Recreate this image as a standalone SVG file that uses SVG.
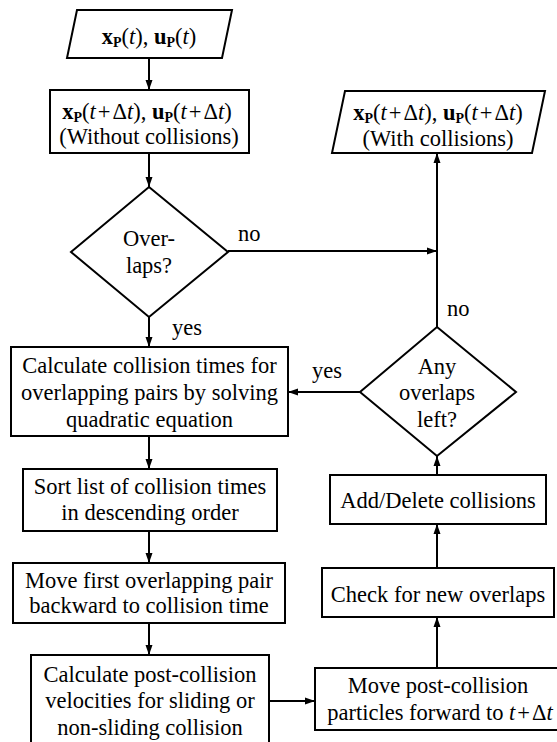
<svg xmlns="http://www.w3.org/2000/svg" width="557" height="742" viewBox="0 0 557 742">
<style>
.s{fill:#fff;stroke:#000;stroke-width:2}
text{font-family:'Liberation Serif','Times New Roman',Tinos,'DejaVu Serif',serif;font-size:22.5px;fill:#000}
.t{text-anchor:middle}
.c{fill:none;stroke:#000;stroke-width:2}
.b{font-weight:bold}
.sub{font-weight:bold;font-size:14px}
.i{font-style:italic}
</style>
<defs>
<marker id="ah" markerUnits="userSpaceOnUse" markerWidth="10" markerHeight="8" refX="10" refY="4" orient="auto">
<path d="M0,0.5 L10,4 L0,7.5 Z" fill="#000"/>
</marker>
</defs>
<rect width="557" height="742" fill="#fff"/>
<g id="connectors">
<line class="c" x1="149" y1="58" x2="149" y2="90" marker-end="url(#ah)"/>
<line class="c" x1="149" y1="153" x2="149" y2="187" marker-end="url(#ah)"/>
<line class="c" x1="228" y1="251" x2="437" y2="251" marker-end="url(#ah)"/>
<line class="c" x1="149" y1="317" x2="149" y2="347" marker-end="url(#ah)"/>
<line class="c" x1="149" y1="436" x2="149" y2="469" marker-end="url(#ah)"/>
<line class="c" x1="149" y1="531" x2="149" y2="563" marker-end="url(#ah)"/>
<line class="c" x1="149" y1="623" x2="149" y2="655" marker-end="url(#ah)"/>
<line class="c" x1="269" y1="701" x2="315" y2="701" marker-end="url(#ah)"/>
<line class="c" x1="437" y1="668" x2="437" y2="617" marker-end="url(#ah)"/>
<line class="c" x1="437" y1="568" x2="437" y2="524" marker-end="url(#ah)"/>
<line class="c" x1="437" y1="475" x2="437" y2="456" marker-end="url(#ah)"/>
<line class="c" x1="360" y1="392" x2="288" y2="392" marker-end="url(#ah)"/>
<line class="c" x1="437" y1="327" x2="437" y2="153" marker-end="url(#ah)"/>
<text x="238" y="241">no</text>
<text x="172" y="335">yes</text>
<text x="447" y="316">no</text>
<text x="312" y="378">yes</text>
</g>
<g id="input">
<polygon class="s" points="77,10 232,10 222,58 67,58"/>
<text class="t" x="149" y="44"><tspan class="b">x</tspan><tspan class="sub" dy="3">P</tspan><tspan dy="-3">(</tspan><tspan class="i">t</tspan>), <tspan class="b">u</tspan><tspan class="sub" dy="3">P</tspan><tspan dy="-3">(</tspan><tspan class="i">t</tspan>)</text>
</g>
<g id="without">
<rect class="s" x="50" y="90" width="199" height="63"/>
<text class="t" x="147" y="119"><tspan class="b">x</tspan><tspan class="sub" dy="3">P</tspan><tspan dy="-3">(</tspan><tspan class="i">t</tspan><tspan dx="2">+</tspan><tspan dx="2">Δ</tspan><tspan class="i">t</tspan>), <tspan class="b">u</tspan><tspan class="sub" dy="3">P</tspan><tspan dy="-3">(</tspan><tspan class="i">t</tspan><tspan dx="2">+</tspan><tspan dx="2">Δ</tspan><tspan class="i">t</tspan>)</text>
<text class="t" x="149" y="144">(With<tspan>out collisions)</tspan></text>
</g>
<g id="overlaps">
<polygon class="s" points="149,187 228,252 149,317 71,252"/>
<text class="t" x="149" y="246">Over-</text>
<text class="t" x="149" y="273">laps?</text>
</g>
<g id="with">
<polygon class="s" points="345,91 545,91 532,153 332,153"/>
<text class="t" x="438" y="120"><tspan class="b">x</tspan><tspan class="sub" dy="3">P</tspan><tspan dy="-3">(</tspan><tspan class="i">t</tspan><tspan dx="2">+</tspan><tspan dx="2">Δ</tspan><tspan class="i">t</tspan>), <tspan class="b">u</tspan><tspan class="sub" dy="3">P</tspan><tspan dy="-3">(</tspan><tspan class="i">t</tspan><tspan dx="2">+</tspan><tspan dx="2">Δ</tspan><tspan class="i">t</tspan>)</text>
<text class="t" x="438" y="146">(With collisions)</text>
</g>
<g id="calc-times">
<rect class="s" x="11" y="347" width="277" height="89"/>
<text class="t" x="149.5" y="373">Calculate collision times for</text>
<text class="t" x="149.5" y="400">overlapping pairs by solving</text>
<text class="t" x="149.5" y="427">quadratic equation</text>
</g>
<g id="any-left">
<polygon class="s" points="437,327 516,392 437,456 360,392"/>
<text class="t" x="437" y="374">Any</text>
<text class="t" x="437" y="400">overlaps</text>
<text class="t" x="437" y="427">left?</text>
</g>
<g id="sort">
<rect class="s" x="23" y="469" width="254" height="62"/>
<text class="t" x="150" y="494">Sort list of collision times</text>
<text class="t" x="150" y="520">in descending order</text>
</g>
<g id="add-delete">
<rect class="s" x="330" y="475" width="216" height="49"/>
<text class="t" x="438" y="508">Add/Delete collisions</text>
</g>
<g id="move-back">
<rect class="s" x="13" y="563" width="272" height="60"/>
<text class="t" x="149" y="588">Move first overlapping pair</text>
<text class="t" x="149" y="613">backward to collision time</text>
</g>
<g id="check">
<rect class="s" x="322" y="568" width="232" height="49"/>
<text class="t" x="438" y="602">Check for new overlaps</text>
</g>
<g id="post-collision">
<rect class="s" x="31" y="655" width="238" height="100"/>
<text class="t" x="150" y="682">Calculate post-collision</text>
<text class="t" x="150" y="708">velocities for sliding or</text>
<text class="t" x="150" y="735">non-sliding collision</text>
</g>
<g id="move-forward">
<rect class="s" x="315" y="668" width="244" height="62"/>
<text class="t" x="438" y="693">Move post-collision</text>
<text class="t" x="440" y="720">particles forward to <tspan class="i">t</tspan><tspan dx="2">+</tspan><tspan dx="2">Δ</tspan><tspan class="i">t</tspan></text>
</g>
</svg>
